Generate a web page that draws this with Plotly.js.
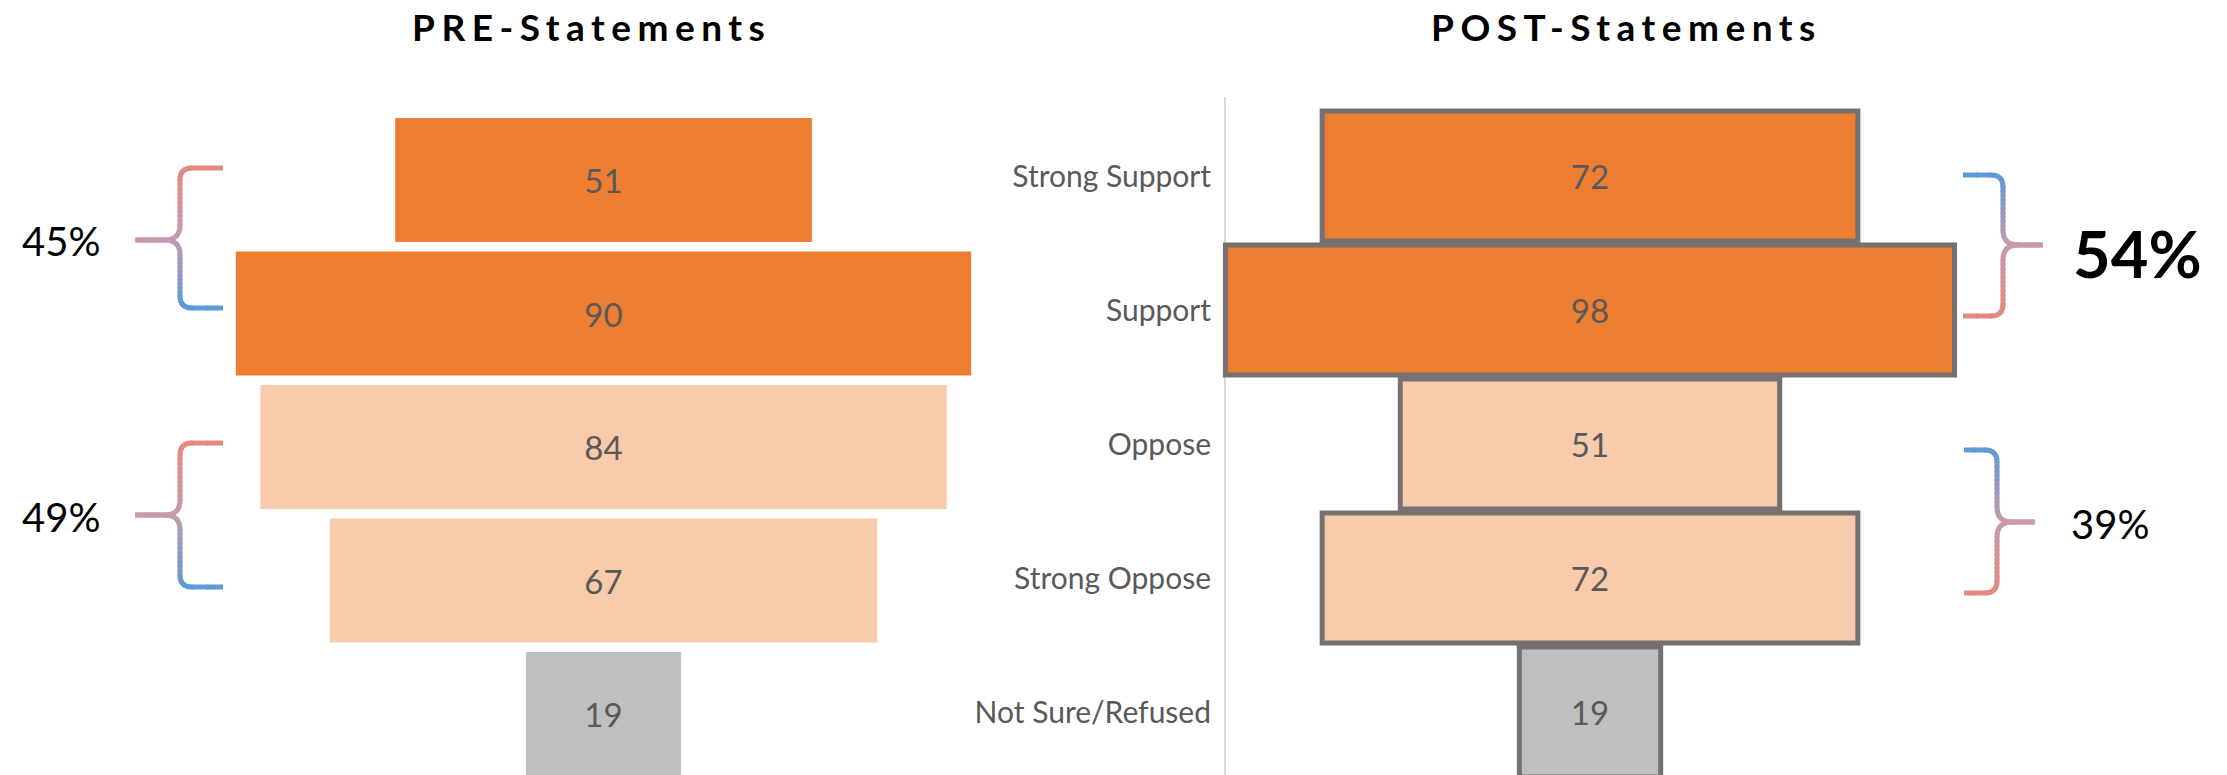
<!DOCTYPE html>
<html>
<head>
<meta charset="utf-8">
<script src="https://cdn.plot.ly/plotly-3.0.1.min.js"></script>
<style>
  html, body { margin: 0; padding: 0; background: #ffffff; }
  #chart { width: 2227px; height: 775px; }
</style>
</head>
<body>
<div id="chart"></div>
<script>
// ---------------- data ----------------
const categories = ['Strong Support', 'Support', 'Oppose', 'Strong Oppose', 'Not Sure/Refused'];
const preValues  = [51, 90, 84, 67, 19];
const postValues = [72, 98, 51, 72, 19];
const barColors  = ['#ED7D31', '#ED7D31', '#F7CBAC', '#F7CBAC', '#BFBFBF'];
const preTitle   = 'PRE-Statements';
const postTitle  = 'POST-Statements';
const preGroupLabels  = ['45%', '49%'];
const postGroupLabels = ['54%', '39%'];

// ---------------- layout helpers (pixel geometry) ----------------
const W = 2227, H = 775;
const px = x => x / W;
const py = y => 1 - y / H;

// PRE panel: centre 603.5px, 8.17 px per unit; category 0 centre at 180px, 133.5px step
const preCx = 603.5, preScale = 8.17, preY0 = 180, preStep = 133.5;
// POST panel: centre 1590px, 7.44 px per unit; category 0 centre at 176px, 134px step
const postCx = 1590, postScale = 7.44, postY0 = 176, postStep = 134;

const traces = [
  {
    type: 'funnel', xaxis: 'x', yaxis: 'y',
    y: categories, x: preValues, orientation: 'h',
    width: 0.93,
    marker: { color: barColors, line: { width: 0 } },
    connector: { visible: false },
    textinfo: 'value', textposition: 'inside', insidetextanchor: 'middle',
    constraintext: 'none',
    insidetextfont: { family: 'Lato, sans-serif', size: 33, color: '#595959' },
    hoverinfo: 'skip', cliponaxis: true
  },
  {
    type: 'funnel', xaxis: 'x2', yaxis: 'y2',
    y: categories, x: postValues, orientation: 'h',
    width: 0.97,
    marker: { color: barColors, line: { width: 5, color: '#767171' } },
    connector: { visible: false },
    textinfo: 'value', textposition: 'inside', insidetextanchor: 'middle',
    constraintext: 'none',
    insidetextfont: { family: 'Lato, sans-serif', size: 33, color: '#595959' },
    hoverinfo: 'skip', cliponaxis: true
  }
];

// ---------------- braces (gradient drawn as short overlapping segments) ----------------
function hexToRgb(h) { return [parseInt(h.slice(1,3),16), parseInt(h.slice(3,5),16), parseInt(h.slice(5,7),16)]; }
function lerp(a, b, t) { return a + (b - a) * t; }
function gradColor(stops, t) {
  t = Math.max(0, Math.min(1, t));
  const n = stops.length - 1;
  const i = Math.min(n - 1, Math.floor(t * n));
  const lt = t * n - i;
  const a = hexToRgb(stops[i]), b = hexToRgb(stops[i + 1]);
  return 'rgb(' + Math.round(lerp(a[0], b[0], lt)) + ',' + Math.round(lerp(a[1], b[1], lt)) + ',' + Math.round(lerp(a[2], b[2], lt)) + ')';
}
function bracePoints(b) {
  const pts = [];
  const r = 12, rt = 15;
  const dir = Math.sign(b.xt - b.xs);
  function quad(p0, c, p1, n) {
    for (let k = 1; k <= n; k++) {
      const t = k / n;
      pts.push([(1-t)*(1-t)*p0[0] + 2*(1-t)*t*c[0] + t*t*p1[0],
                (1-t)*(1-t)*p0[1] + 2*(1-t)*t*c[1] + t*t*p1[1]]);
    }
  }
  function line(p1, n) {
    const p0 = pts[pts.length - 1];
    for (let k = 1; k <= n; k++) {
      const t = k / n;
      pts.push([lerp(p0[0], p1[0], t), lerp(p0[1], p1[1], t)]);
    }
  }
  pts.push([b.xe, b.yt]);
  line([b.xs - dir * r, b.yt], 2);
  quad([b.xs - dir * r, b.yt], [b.xs, b.yt], [b.xs, b.yt + r], 8);
  line([b.xs, b.ym - rt], 10);
  quad([b.xs, b.ym - rt], [b.xs, b.ym], [b.xs + dir * rt, b.ym], 8);
  line([b.xt, b.ym], 3);
  line([b.xs + dir * rt, b.ym], 1);
  quad([b.xs + dir * rt, b.ym], [b.xs, b.ym], [b.xs, b.ym + rt], 8);
  line([b.xs, b.yb - r], 10);
  quad([b.xs, b.yb - r], [b.xs, b.yb], [b.xs - dir * r, b.yb], 8);
  line([b.xe, b.yb], 2);
  return pts;
}
const pinkToBlue = ['#E4897F', '#C999AE', '#5B9BD8'];
const blueToPink = ['#5B9BD8', '#C999AE', '#E4897F'];
const braces = [
  { xe: 223, xs: 180, xt: 136, yt: 168, ym: 240, yb: 308, stops: pinkToBlue },
  { xe: 223, xs: 180, xt: 136, yt: 443, ym: 515, yb: 587, stops: pinkToBlue },
  { xe: 1963, xs: 2003, xt: 2042, yt: 175, ym: 245, yb: 316, stops: blueToPink },
  { xe: 1964, xs: 1997, xt: 2034, yt: 450, ym: 522, yb: 593, stops: blueToPink }
];
const shapes = [];
braces.forEach(b => {
  const pts = bracePoints(b);
  for (let i = 0; i < pts.length - 1; i++) {
    const p0 = pts[i], p1 = pts[i + 1];
    const dx = p1[0] - p0[0], dy = p1[1] - p0[1];
    const len = Math.hypot(dx, dy);
    if (len < 0.01) continue;
    const ux = dx / len, uy = dy / len;
    const e0 = i === 0 ? 0 : 0.8, e1 = i === pts.length - 2 ? 0 : 0.8;
    const a = [p0[0] - ux * e0, p0[1] - uy * e0];
    const c = [p1[0] + ux * e1, p1[1] + uy * e1];
    const t = ((p0[1] + p1[1]) / 2 - b.yt) / (b.yb - b.yt);
    shapes.push({
      type: 'path', xref: 'paper', yref: 'paper', layer: 'above',
      path: 'M' + px(a[0]) + ',' + py(a[1]) + 'L' + px(c[0]) + ',' + py(c[1]),
      line: { color: gradColor(b.stops, t), width: 5 }
    });
  }
});
// vertical axis line of the POST panel
shapes.push({
  type: 'line', xref: 'paper', yref: 'paper', layer: 'below',
  x0: px(1225), x1: px(1225), y0: 0, y1: py(97),
  line: { color: '#D9D9D9', width: 2 }
});

// ---------------- annotations ----------------
const annotations = [
  { text: '<span style="letter-spacing:6.5px">' + preTitle + '</span>', x: px(591), y: py(26),
    font: { family: 'Lato, sans-serif', size: 37, weight: 700, color: '#000000' } },
  { text: '<span style="letter-spacing:6.5px">' + postTitle + '</span>', x: px(1626), y: py(26),
    font: { family: 'Lato, sans-serif', size: 37, weight: 700, color: '#000000' } },
  { text: preGroupLabels[0], x: px(61), y: py(241), font: { family: 'Lato, sans-serif', size: 40, color: '#000000' } },
  { text: preGroupLabels[1], x: px(61), y: py(517), font: { family: 'Lato, sans-serif', size: 40, color: '#000000' } },
  { text: postGroupLabels[0], x: px(2137), y: py(253), font: { family: 'Lato, sans-serif', size: 65, weight: 700, color: '#000000' } },
  { text: postGroupLabels[1], x: px(2110), y: py(524), font: { family: 'Lato, sans-serif', size: 40, color: '#000000' } }
].map(a => Object.assign({ xref: 'paper', yref: 'paper', showarrow: false, xanchor: 'center', yanchor: 'middle' }, a));

const layout = {
  width: W, height: H,
  margin: { l: 0, r: 0, t: 0, b: 0, pad: 0 },
  paper_bgcolor: '#ffffff', plot_bgcolor: 'rgba(0,0,0,0)',
  showlegend: false,
  xaxis: {
    domain: [0, 1], anchor: 'y',
    range: [-preCx / preScale, (W - preCx) / preScale],
    visible: false, fixedrange: true
  },
  yaxis: {
    domain: [0, 1], anchor: 'x', type: 'category',
    categoryorder: 'array', categoryarray: categories,
    range: [(H - preY0) / preStep, -preY0 / preStep],
    visible: false, fixedrange: true
  },
  xaxis2: {
    overlaying: 'x', anchor: 'y2',
    range: [-postCx / postScale, (W - postCx) / postScale],
    visible: false, fixedrange: true
  },
  yaxis2: {
    overlaying: 'y', anchor: 'free', position: px(1225), side: 'left',
    type: 'category', categoryorder: 'array', categoryarray: categories,
    range: [(H - postY0) / postStep, -postY0 / postStep],
    showgrid: false, zeroline: false, showline: false, ticks: '',
    ticklabelstandoff: 14,
    tickfont: { family: 'Lato, sans-serif', size: 30, color: '#595959' },
    fixedrange: true
  },
  shapes: shapes,
  annotations: annotations
};

Plotly.newPlot('chart', traces, layout, { displayModeBar: false, staticPlot: true });
</script>
</body>
</html>
